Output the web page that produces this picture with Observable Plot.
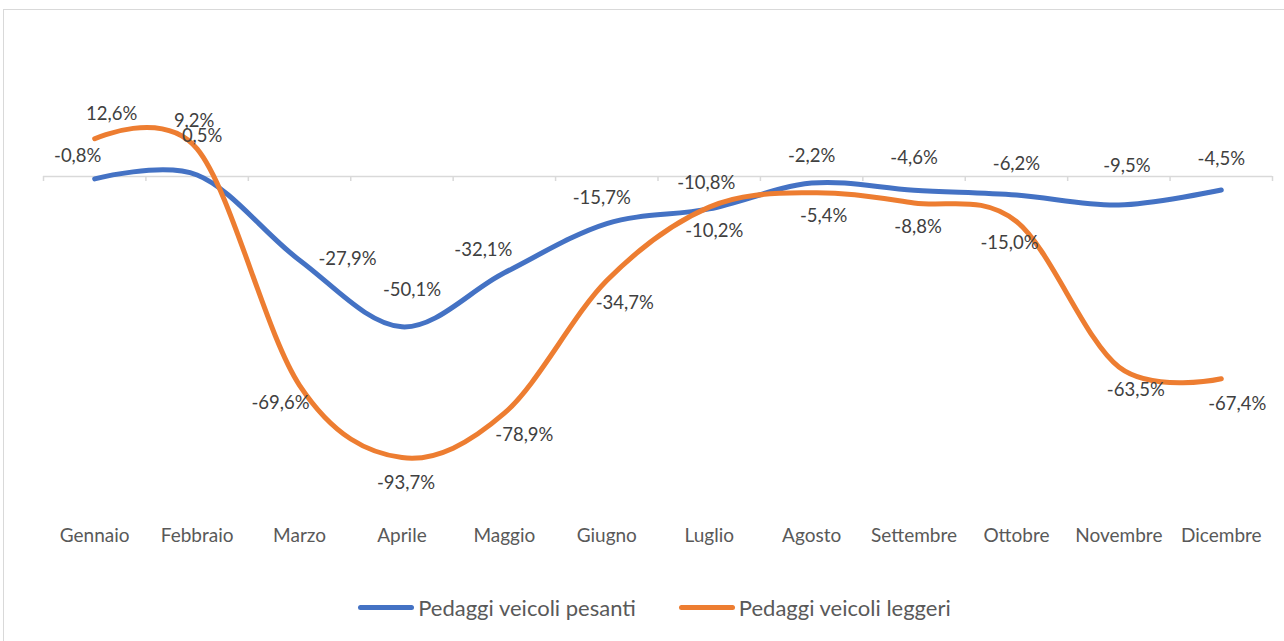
<!DOCTYPE html>
<html>
<head>
<meta charset="utf-8">
<script src="https://cdn.jsdelivr.net/npm/d3@7"></script>
<script src="https://cdn.jsdelivr.net/npm/@observablehq/plot@0.6"></script>
<style>
  html, body { margin: 0; padding: 0; background: #fff; }
  #wrap { position: relative; width: 1284px; height: 641px; overflow: hidden; font-family: Lato, "Open Sans", sans-serif; }
  #frame { position: absolute; left: 3px; top: 9px; width: 1300px; height: 700px; border: 1px solid #d9d9d9; box-sizing: border-box; }
  #chart { position: absolute; left: 0; top: 0; }
  #legend { position: absolute; left: 0; top: 590px; width: 1309px; height: 34px; display: flex; justify-content: center; align-items: center; gap: 43px; color: #595959; font-size: 22px; }
  .item { display: flex; align-items: center; }
  .sw { width: 56px; height: 5px; border-radius: 3px; margin-right: 4px; }
</style>
</head>
<body>
<div id="wrap">
  <div id="frame"></div>
  <div id="chart"></div>
  <div id="legend"></div>
</div>
<script>
// ---- data ----
const months = ["Gennaio", "Febbraio", "Marzo", "Aprile", "Maggio", "Giugno", "Luglio", "Agosto", "Settembre", "Ottobre", "Novembre", "Dicembre"];
const seriesNames = ["Pedaggi veicoli pesanti", "Pedaggi veicoli leggeri"];
const pesanti = [-0.8, 0.5, -27.9, -50.1, -32.1, -15.7, -10.8, -2.2, -4.6, -6.2, -9.5, -4.5];
const leggeri = [12.6, 9.2, -69.6, -93.7, -78.9, -34.7, -10.2, -5.4, -8.8, -15.0, -63.5, -67.4];
const seriesColors = ["#4472C4", "#ED7D31"];

// ---- table built from arrays ----
const rows = [];
[pesanti, leggeri].forEach((vals, s) => {
  vals.forEach((v, i) => rows.push({series: seriesNames[s], s, i, month: months[i], v}));
});

// label placement (layout, in pixels relative to point)
const labelOffset = [
  [[-17,-23],[5,-39],[48,-1],[10,-37],[-21,-23],[-5,-26],[-3,-26],[0,-27],[0,-32],[0,-31],[8,-39],[0,-31]],
  [[17,-25],[-3,-28],[-19,18],[4,25],[20,22],[18,22],[5,24],[12,23],[4,24],[-7,22],[17,23],[16,25]]
];

const fmt = v => v.toFixed(1).replace(".", ",") + "%";

const labelMarks = rows.map(d => Plot.text([d], {
  x: "i", y: "v", text: r => fmt(r.v),
  dx: labelOffset[d.s][d.i][0], dy: labelOffset[d.s][d.i][1],
  fill: "#404040", fontSize: 18.5, fontFamily: "Lato"
}));

const chart = Plot.plot({
  width: 1284,
  height: 575,
  marginLeft: 43,
  marginRight: 12,
  marginTop: 116,
  marginBottom: 99,
  style: { fontFamily: "Lato", fontSize: "19px", color: "#595959", background: "transparent" },
  x: {
    type: "linear", domain: [-0.5, 11.5],
    ticks: d3.range(months.length), tickFormat: i => months[i],
    tickSize: 0, tickPadding: 52, label: null
  },
  y: { domain: [-100, 20], axis: null },
  color: { domain: seriesNames, range: seriesColors },
  marks: [
    Plot.ruleY([0], { stroke: "#d9d9d9", strokeWidth: 1.5 }),
    Plot.ruleX(d3.range(months.length + 1).map(i => i - 0.5), { y1: () => 0, y2: () => 0, insetBottom: -5, stroke: "#d9d9d9", strokeWidth: 1.5 }),
    Plot.line(rows, { x: "i", y: "v", stroke: "series", z: "series", curve: "cardinal", strokeWidth: 5, strokeLinecap: "round", strokeLinejoin: "round" }),
    ...labelMarks
  ]
});
document.getElementById("chart").appendChild(chart);

// legend
const legend = document.getElementById("legend");
seriesNames.forEach((name, s) => {
  const item = document.createElement("div");
  item.className = "item";
  const sw = document.createElement("div");
  sw.className = "sw";
  sw.style.background = seriesColors[s];
  const t = document.createElement("span");
  t.textContent = name;
  item.appendChild(sw);
  item.appendChild(t);
  legend.appendChild(item);
});
</script>
</body>
</html>
